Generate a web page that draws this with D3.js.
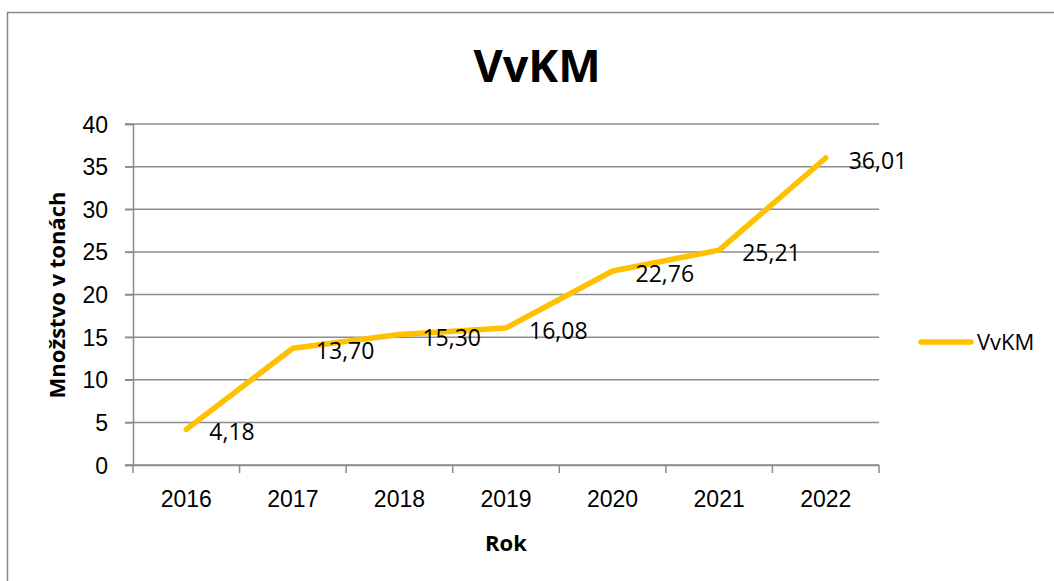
<!DOCTYPE html>
<html>
<head>
<meta charset="utf-8">
<script src="https://cdn.jsdelivr.net/npm/d3@7"></script>
<style>
  body { margin: 0; background: #fff; }
  svg { display: block; font-family: "Open Sans", sans-serif; }
</style>
</head>
<body>
<svg id="chart" width="1054" height="581"></svg>
<script>
// data
var years = ["2016", "2017", "2018", "2019", "2020", "2021", "2022"];
var amounts = [4.18, 13.70, 15.30, 16.08, 22.76, 25.21, 36.01];
var yTicks = [0, 5, 10, 15, 20, 25, 30, 35, 40];
var seriesName = "VvKM";

var svg = d3.select("#chart"),
    margin = {top: 124, left: 133, right: 175, bottom: 116},
    width = 1054 - margin.left - margin.right,
    height = 581 - margin.top - margin.bottom;

// outer chart border (right/bottom run off the picture)
svg.append("rect")
  .attr("x", 7.5).attr("y", 12.5)
  .attr("width", 1060).attr("height", 600)
  .attr("fill", "none")
  .attr("stroke", "#878787")
  .attr("stroke-width", 1.5);

var g = svg.append("g").attr("transform", "translate(" + margin.left + "," + margin.top + ")");

var x = d3.scaleBand().domain(years).range([0, width]).padding(0);
var y = d3.scaleLinear().domain([0, 40]).range([height, 0]);

// gridlines
g.append("g")
  .selectAll("line")
  .data(yTicks)
  .enter().append("line")
  .attr("x1", -8).attr("x2", width)
  .attr("y1", function(d) { return y(d); })
  .attr("y2", function(d) { return y(d); })
  .attr("stroke", "#8c8c8c")
  .attr("stroke-width", 1.5);

// y axis
var yAxis = g.append("g")
  .call(d3.axisLeft(y).tickValues(yTicks).tickSize(8).tickPadding(17));
yAxis.select(".domain").attr("stroke", "#8c8c8c").attr("stroke-width", 1.5);
yAxis.selectAll(".tick line").attr("stroke", "#8c8c8c").attr("stroke-width", 1.5);
yAxis.selectAll("text").style("font-size", "23px").attr("fill", "#000").attr("dy", "0.35em");

// x axis, ticks on category boundaries
var xAxis = g.append("g")
  .attr("transform", "translate(0," + height + ")")
  .call(d3.axisBottom(x).tickSize(0).tickPadding(26));
xAxis.select(".domain").attr("stroke", "#8c8c8c").attr("stroke-width", 1.5);
xAxis.selectAll("text").style("font-size", "23px").attr("fill", "#000");

g.append("g")
  .selectAll("line")
  .data(years.concat(["end"]))
  .enter().append("line")
  .attr("x1", function(d, i) { return i * x.bandwidth(); })
  .attr("x2", function(d, i) { return i * x.bandwidth(); })
  .attr("y1", height).attr("y2", height + 8)
  .attr("stroke", "#8c8c8c")
  .attr("stroke-width", 1.5);

// line
var line = d3.line()
  .x(function(d, i) { return x(years[i]) + x.bandwidth() / 2; })
  .y(function(d) { return y(d); });

g.append("path")
  .datum(amounts)
  .attr("d", line)
  .attr("fill", "none")
  .attr("stroke", "#FFC000")
  .attr("stroke-width", 5.5)
  .attr("stroke-linejoin", "round")
  .attr("stroke-linecap", "round");

// data labels
g.selectAll(".lab")
  .data(amounts)
  .enter().append("text")
  .attr("class", "lab")
  .attr("x", function(d, i) { return x(years[i]) + x.bandwidth() / 2 + 23; })
  .attr("y", function(d) { return y(d) + 3; })
  .attr("dy", "0.35em")
  .style("font-size", "23px")
  .attr("fill", "#000")
  .text(function(d) { return d.toFixed(2).replace(".", ","); });

// title
svg.append("text")
  .attr("x", 537).attr("y", 82)
  .attr("text-anchor", "middle")
  .style("font-size", "45px")
  .style("font-weight", "bold")
  .text("VvKM");

// axis titles
svg.append("text")
  .attr("x", 506).attr("y", 551)
  .attr("text-anchor", "middle")
  .style("font-size", "22px")
  .style("font-weight", "bold")
  .text("Rok");

svg.append("text")
  .attr("transform", "translate(65,295) rotate(-90)")
  .attr("text-anchor", "middle")
  .style("font-size", "22px")
  .style("font-weight", "bold")
  .text("Množstvo v tonách");

// legend
var legend = svg.append("g").attr("transform", "translate(919,342)");
legend.append("line")
  .attr("x1", 2).attr("x2", 52)
  .attr("stroke", "#FFC000")
  .attr("stroke-width", 5.5)
  .attr("stroke-linecap", "round");
legend.append("text")
  .attr("x", 58).attr("dy", "0.35em")
  .style("font-size", "22px")
  .text(seriesName);
</script>
</body>
</html>
